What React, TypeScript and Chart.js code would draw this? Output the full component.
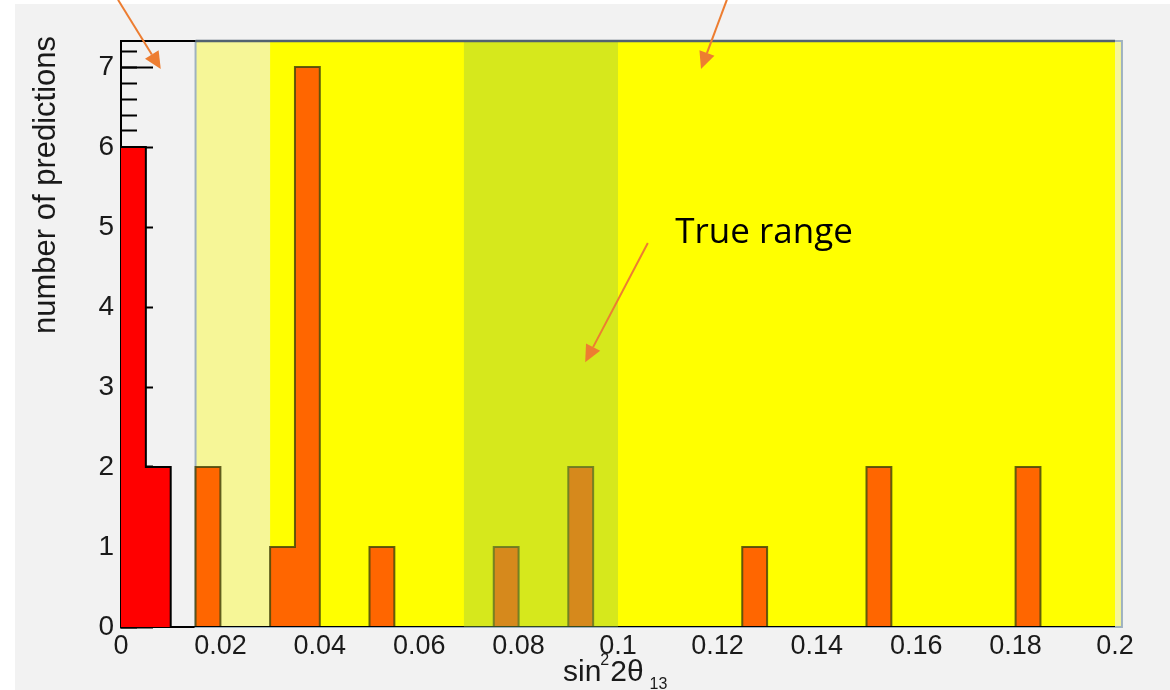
import React, { useEffect, useRef } from 'react';
import { Chart, registerables } from 'chart.js';

Chart.register(...registerables);

// Histogram binning
const binWidth = 0.005;
const xRange = [0, 0.2];
const yMax = 7.325;

// Red histogram: lower bin edges and counts
const redBinLow = [0, 0.005];
const redCounts = [6, 2];

// Orange histogram: lower bin edges and counts
const orangeBinLow = [0.015, 0.03, 0.035, 0.05, 0.075, 0.09, 0.125, 0.15, 0.18];
const orangeCounts = [2, 1, 7, 1, 1, 2, 1, 2, 2];

// Axis tick labels
const xTickValues = [0, 0.02, 0.04, 0.06, 0.08, 0.1, 0.12, 0.14, 0.16, 0.18, 0.2];
const yTickValues = [0, 1, 2, 3, 4, 5, 6, 7];
const yMinorStep = 0.2;

// Shaded ranges along the x axis
const paleBand = [0.015, 0.2014];
const yellowBand = [0.03, 0.2];
const trueRange = [0.069, 0.1];

// Annotation (data coordinates)
const annotationText = 'True range';
const annotationPos = { x: 0.1115, y: 4.8 };
const arrows = [
  { from: { x: 0.106, y: 4.8 }, to: { x: 0.0934, y: 3.31 } },
  { from: { x: -0.0006, y: 7.84 }, to: { x: 0.008, y: 6.975 } },
  { from: { x: 0.1219, y: 7.84 }, to: { x: 0.1167, y: 6.975 } },
];

const FONT = '"Liberation Sans", Arial, Helvetica, sans-serif';

type Pt = { x: number; y: number };

function redSteps(): Pt[] {
  const pts: Pt[] = redBinLow.map((x, i) => ({ x, y: redCounts[i] }));
  const lastHi = redBinLow[redBinLow.length - 1] + binWidth;
  pts.push({ x: lastHi, y: 0 });
  pts.push({ x: xRange[1], y: 0 });
  return pts;
}

// Split the orange bins into runs of adjacent bins, each drawn as one outline
function orangeGroups(): Pt[][] {
  const groups: Pt[][] = [];
  let current: Pt[] | null = null;
  let prevHi = -1;
  orangeBinLow.forEach((lo, i) => {
    const c = orangeCounts[i];
    if (!current || Math.abs(lo - prevHi) > 1e-9) {
      if (current) {
        current.push({ x: prevHi, y: 0 });
        groups.push(current);
      }
      current = [{ x: lo, y: 0 }];
    }
    current.push({ x: lo, y: c });
    prevHi = lo + binWidth;
  });
  if (current) {
    (current as Pt[]).push({ x: prevHi, y: 0 });
    groups.push(current);
  }
  return groups;
}

function fmtX(v: number): string {
  return String(Number(v.toFixed(3)));
}

function drawArrow(ctx: CanvasRenderingContext2D, x1: number, y1: number, x2: number, y2: number) {
  const ang = Math.atan2(y2 - y1, x2 - x1);
  const headLen = 17;
  const headHalf = 8;
  const bx = x2 - headLen * Math.cos(ang);
  const by = y2 - headLen * Math.sin(ang);
  ctx.save();
  ctx.strokeStyle = '#ed7d31';
  ctx.fillStyle = '#ed7d31';
  ctx.lineWidth = 2;
  ctx.beginPath();
  ctx.moveTo(x1, y1);
  ctx.lineTo(bx, by);
  ctx.stroke();
  ctx.beginPath();
  ctx.moveTo(x2, y2);
  ctx.lineTo(bx + headHalf * Math.sin(ang), by - headHalf * Math.cos(ang));
  ctx.lineTo(bx - headHalf * Math.sin(ang), by + headHalf * Math.cos(ang));
  ctx.closePath();
  ctx.fill();
  ctx.restore();
}

const backgroundPlugin = {
  id: 'pageBackground',
  beforeDraw(chart: any) {
    const { ctx, width, height } = chart;
    ctx.save();
    ctx.fillStyle = '#ffffff';
    ctx.fillRect(0, 0, width, height);
    ctx.fillStyle = '#f2f2f2';
    ctx.fillRect(15, 4, width - 15, height - 4);
    ctx.restore();
  },
};

const bandsPlugin = {
  id: 'rangeBands',
  beforeDatasetsDraw(chart: any) {
    const { ctx, chartArea } = chart;
    const xs = chart.scales.x;
    const top = chartArea.top;
    const bottom = chartArea.bottom;
    ctx.save();
    // pale box
    const p0 = xs.getPixelForValue(paleBand[0]);
    const p1 = xs.getPixelForValue(paleBand[1]);
    ctx.fillStyle = '#f6f697';
    ctx.fillRect(p0, top, p1 - p0, bottom - top);
    ctx.strokeStyle = '#9fb2c0';
    ctx.lineWidth = 2;
    ctx.strokeRect(p0, top, p1 - p0, bottom - top);
    // yellow box
    const y0 = xs.getPixelForValue(yellowBand[0]);
    const y1 = xs.getPixelForValue(yellowBand[1]);
    ctx.fillStyle = '#ffff00';
    ctx.fillRect(y0, top + 1, y1 - y0, bottom - top - 1);
    ctx.restore();
  },
  afterDatasetsDraw(chart: any) {
    const { ctx, chartArea } = chart;
    const xs = chart.scales.x;
    const ys = chart.scales.y;
    const top = chartArea.top;
    const bottom = chartArea.bottom;
    ctx.save();
    // translucent green true range
    const g0 = xs.getPixelForValue(trueRange[0]);
    const g1 = xs.getPixelForValue(trueRange[1]);
    ctx.fillStyle = 'rgba(147,194,74,0.38)';
    ctx.fillRect(g0, top + 1, g1 - g0, bottom - top - 1);

    // top frame
    const pl = xs.getPixelForValue(paleBand[0]);
    ctx.lineWidth = 2;
    ctx.strokeStyle = '#000000';
    ctx.beginPath();
    ctx.moveTo(chartArea.left - 1, top);
    ctx.lineTo(pl, top);
    ctx.stroke();
    ctx.strokeStyle = '#526270';
    ctx.lineWidth = 2.5;
    ctx.beginPath();
    ctx.moveTo(pl, top);
    ctx.lineTo(chartArea.right, top);
    ctx.stroke();

    // annotation
    ctx.fillStyle = '#000000';
    ctx.font = '35px "Open Sans", Lato, sans-serif';
    ctx.textAlign = 'left';
    ctx.textBaseline = 'alphabetic';
    ctx.fillText(annotationText, xs.getPixelForValue(annotationPos.x), ys.getPixelForValue(annotationPos.y));
    ctx.restore();

    arrows.forEach((a) => {
      drawArrow(
        ctx,
        xs.getPixelForValue(a.from.x),
        ys.getPixelForValue(a.from.y),
        xs.getPixelForValue(a.to.x),
        ys.getPixelForValue(a.to.y)
      );
    });
  },
};

const titlesPlugin = {
  id: 'axisTitles',
  afterDraw(chart: any) {
    const { ctx } = chart;
    ctx.save();
    ctx.fillStyle = '#1a1a1a';
    // y title
    ctx.translate(55, 185);
    ctx.rotate(-Math.PI / 2);
    ctx.font = `31px ${FONT}`;
    ctx.textAlign = 'center';
    ctx.textBaseline = 'alphabetic';
    ctx.fillText('number of predictions', 0, 0);
    ctx.restore();

    // x title: sin²2θ₁₃
    ctx.save();
    ctx.fillStyle = '#1a1a1a';
    ctx.textAlign = 'left';
    ctx.textBaseline = 'alphabetic';
    let x = 563;
    const base = 681;
    ctx.font = `30px ${FONT}`;
    ctx.fillText('sin', x, base);
    x += ctx.measureText('sin').width;
    ctx.font = `16px ${FONT}`;
    ctx.fillText('2', x - 1, base - 16);
    x += ctx.measureText('2').width;
    ctx.font = `30px ${FONT}`;
    ctx.fillText('2θ', x, base);
    x += ctx.measureText('2θ').width + 6;
    ctx.font = `16px ${FONT}`;
    ctx.fillText('13', x, base + 8);
    ctx.restore();
  },
};

export default function App() {
  const canvasRef = useRef<HTMLCanvasElement | null>(null);

  useEffect(() => {
    const canvas = canvasRef.current;
    if (!canvas) return;

    const datasets: any[] = [];
    orangeGroups().forEach((g) => {
      datasets.push({
        data: g,
        stepped: 'before',
        fill: 'origin',
        backgroundColor: '#ff6600',
        borderColor: 'rgba(70,70,10,0.85)',
        borderWidth: 2,
        pointRadius: 0,
        borderJoinStyle: 'miter',
        order: 2,
      });
    });
    datasets.push({
      data: redSteps(),
      stepped: 'before',
      fill: 'origin',
      backgroundColor: '#ff0000',
      borderColor: '#000000',
      borderWidth: 2,
      pointRadius: 0,
      borderJoinStyle: 'miter',
      order: 1,
    });

    const minorTicks: { value: number }[] = [];
    for (let i = 0; i * yMinorStep <= yMax + 1e-9; i++) minorTicks.push({ value: +(i * yMinorStep).toFixed(3) });

    const chart = new Chart(canvas, {
      type: 'line',
      data: { datasets },
      plugins: [backgroundPlugin, bandsPlugin, titlesPlugin],
      options: {
        animation: false,
        responsive: false,
        devicePixelRatio: 1,
        layout: { padding: { left: 0, top: 41, right: 55, bottom: 0 } },
        plugins: {
          legend: { display: false },
          tooltip: { enabled: false },
        },
        elements: { line: { tension: 0 } },
        scales: {
          x: {
            type: 'linear',
            min: xRange[0],
            max: xRange[1],
            afterBuildTicks: (s: any) => {
              s.ticks = xTickValues.map((v) => ({ value: v }));
            },
            afterFit: (s: any) => {
              s.height = 63;
              s.paddingLeft = 0;
              s.paddingRight = 0;
            },
            ticks: {
              color: '#1a1a1a',
              font: { family: FONT, size: 27 },
              padding: 3,
              maxRotation: 0,
              autoSkip: false,
              callback: (v: any) => fmtX(Number(v)),
            },
            grid: { display: true, drawOnChartArea: false, drawTicks: false },
            border: { display: true, color: '#000000', width: 2 },
          },
          y: {
            type: 'linear',
            position: 'left',
            weight: 1,
            min: 0,
            max: yMax,
            afterBuildTicks: (s: any) => {
              s.ticks = yTickValues.map((v) => ({ value: v }));
            },
            afterFit: (s: any) => {
              s.width = 121;
              s.paddingTop = 0;
              s.paddingBottom = 0;
            },
            ticks: {
              color: '#1a1a1a',
              font: { family: FONT, size: 28 },
              padding: 39,
              autoSkip: false,
              callback: (v: any) => String(v),
            },
            grid: {
              display: true,
              drawOnChartArea: false,
              drawTicks: true,
              tickLength: -32,
              tickColor: '#000000',
              tickWidth: 2,
            },
            border: { display: true, color: '#000000', width: 2 },
          },
          yMinor: {
            type: 'linear',
            position: 'left',
            weight: 0,
            min: 0,
            max: yMax,
            afterBuildTicks: (s: any) => {
              s.ticks = minorTicks.slice();
            },
            afterFit: (s: any) => {
              s.width = 0;
              s.paddingTop = 0;
              s.paddingBottom = 0;
            },
            ticks: { display: false },
            grid: {
              display: true,
              drawOnChartArea: false,
              drawTicks: true,
              tickLength: -16,
              tickColor: '#000000',
              tickWidth: 2,
            },
            border: { display: false },
          },
        },
      } as any,
    });

    return () => {
      chart.destroy();
    };
  }, []);

  return (
    <div style={{ position: 'fixed', left: 0, top: 0, width: 1170, height: 690 }}>
      <canvas ref={canvasRef} width={1170} height={690} style={{ width: 1170, height: 690, display: 'block' }} />
    </div>
  );
}
